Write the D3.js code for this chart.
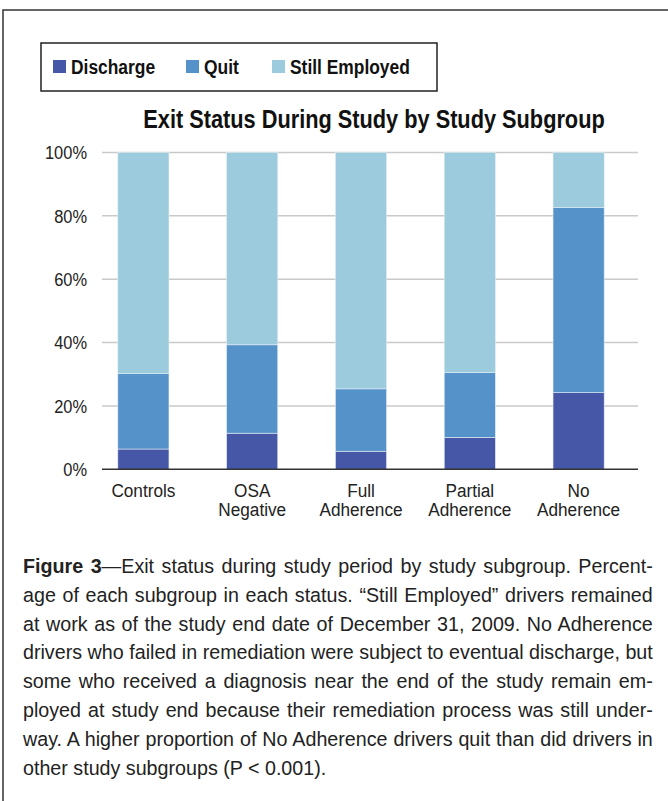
<!DOCTYPE html>
<html>
<head>
<meta charset="utf-8">
<script src="https://cdn.jsdelivr.net/npm/d3@7"></script>
<style>
  body { margin: 0; background: #fff; }
  #wrap { position: relative; width: 668px; height: 801px; overflow: hidden; }
  #caption {
    position: absolute; left: 23px; top: 552px; width: 656px;
    transform: scaleX(0.96); transform-origin: 0 0;
    font-family: "Liberation Sans", Arial, sans-serif;
    font-size: 20.5px; line-height: 28.8px; color: #222;
  }
  #caption div { white-space: nowrap; text-align: justify; text-align-last: justify; }
  #caption div.last { text-align-last: left; }
</style>
</head>
<body>
<div id="wrap">
  <div id="chart"></div>
  <div id="caption"></div>
</div>
<script>
const categories = [["Controls"], ["OSA", "Negative"], ["Full", "Adherence"], ["Partial", "Adherence"], ["No", "Adherence"]];
const seriesNames = ["Discharge", "Quit", "Still Employed"];
const discharge = [6.4, 11.4, 5.7, 10.1, 24.2];
const quit = [23.8, 27.9, 19.7, 20.5, 58.4];
const stillEmployed = [69.8, 60.7, 74.6, 69.4, 17.4];
const yTicks = [0, 20, 40, 60, 80, 100];
const colors = ["#4557a6", "#5592c9", "#9bcbdc"];
const captionLines = [
  ["Figure 3", "—Exit status during study period by study subgroup. Percent-"],
  ["", "age of each subgroup in each status. “Still Employed” drivers remained"],
  ["", "at work as of the study end date of December 31, 2009. No Adherence"],
  ["", "drivers who failed in remediation were subject to eventual discharge, but"],
  ["", "some who received a diagnosis near the end of the study remain em-"],
  ["", "ployed at study end because their remediation process was still under-"],
  ["", "way. A higher proportion of No Adherence drivers quit than did drivers in"],
  ["", "other study subgroups (P < 0.001)."]
];

const width = 668, height = 801;
const font = '"Liberation Sans", Arial, sans-serif';

const svg = d3.select("#chart").append("svg")
  .attr("width", width).attr("height", height)
  .style("position", "absolute").style("left", 0).style("top", 0);

// no condensed font available, so squeeze the text horizontally
function narrowText(sel, sx) {
  return sel.append("g")
    .attr("transform", d => `translate(${d.tx},${d.ty}) scale(${sx},1)`)
    .append("text")
    .style("font-family", font);
}

// outer frame (top + left edges)
svg.append("path")
  .attr("d", `M3,${height} V10 H${width}`)
  .attr("fill", "none").attr("stroke", "#333").attr("stroke-width", 1.5);

const data = categories.map((c, i) => ({
  key: c.join(" "), lines: c,
  Discharge: discharge[i], Quit: quit[i], "Still Employed": stillEmployed[i]
}));

const x = d3.scaleBand()
  .domain(data.map(d => d.key))
  .range([89, 633])
  .paddingInner(0.53).paddingOuter(0.265);

const y = d3.scaleLinear().domain([0, 100]).range([469.3, 152.5]);

// gridlines
svg.append("g").selectAll("line")
  .data(yTicks.filter(t => t > 0))
  .join("line")
  .attr("x1", 102).attr("x2", 638)
  .attr("y1", d => y(d)).attr("y2", d => y(d))
  .attr("stroke", "#c9c9c9").attr("stroke-width", 1.5);

// y labels
const yl = svg.append("g").selectAll("g")
  .data(yTicks.map(t => ({ t, tx: 87, ty: y(t) + 6.7 })))
  .join("g");
narrowText(yl, 0.865)
  .attr("text-anchor", "end")
  .style("font-size", "19px").attr("fill", "#222")
  .text(d => d.t + "%");

// stacked bars
const stack = d3.stack().keys(seriesNames)(data);
svg.append("g").selectAll("g")
  .data(stack)
  .join("g")
  .attr("fill", (d, i) => colors[i])
  .selectAll("rect")
  .data(d => d)
  .join("rect")
  .attr("x", d => x(d.data.key))
  .attr("width", x.bandwidth())
  .attr("y", d => y(d[1]))
  .attr("height", d => y(d[0]) - y(d[1]))
  .attr("stroke", "#e3edf4").attr("stroke-width", 0.6);

// baseline
svg.append("line")
  .attr("x1", 102).attr("x2", 638)
  .attr("y1", y(0)).attr("y2", y(0))
  .attr("stroke", "#333").attr("stroke-width", 1.5);

// category labels
const catData = [];
data.forEach(d => d.lines.forEach((l, i) => catData.push({
  l, tx: x(d.key) + x.bandwidth() / 2, ty: 496.7 + i * 19.5
})));
const cat = svg.append("g").selectAll("g").data(catData).join("g");
narrowText(cat, 0.906)
  .attr("text-anchor", "middle")
  .style("font-size", "19px").attr("fill", "#222")
  .text(d => d.l);

// title
const tg = svg.append("g").selectAll("g")
  .data([{ tx: 374, ty: 128 }]).join("g");
narrowText(tg, 0.87)
  .attr("text-anchor", "middle")
  .style("font-size", "25px").style("font-weight", "bold")
  .attr("fill", "#111")
  .text("Exit Status During Study by Study Subgroup");

// legend
svg.append("rect")
  .attr("x", 41).attr("y", 43).attr("width", 396).attr("height", 48)
  .attr("fill", "none").attr("stroke", "#222").attr("stroke-width", 1.5);
const legendX = [53, 186, 272];
const lg = svg.append("g").selectAll("g")
  .data(seriesNames.map((s, i) => ({ s, i, tx: legendX[i] + 18, ty: 73.5 })))
  .join("g");
lg.append("rect")
  .attr("x", d => legendX[d.i]).attr("y", 60)
  .attr("width", 13).attr("height", 13).attr("fill", d => colors[d.i]);
narrowText(lg, 0.87)
  .style("font-size", "20px").style("font-weight", "bold")
  .attr("fill", "#111")
  .text(d => d.s);

// caption
const cap = d3.select("#caption").selectAll("div")
  .data(captionLines)
  .join("div")
  .classed("last", (d, i) => i === captionLines.length - 1);
cap.filter(d => d[0]).append("b").text(d => d[0]);
cap.append("span").text(d => d[1]);
</script>
</body>
</html>
